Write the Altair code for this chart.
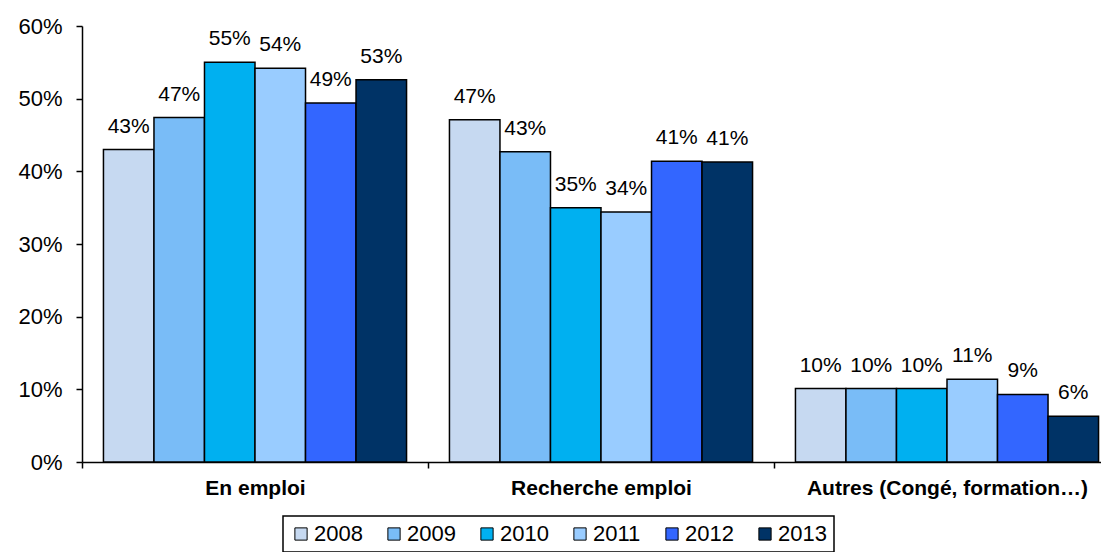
import altair as alt
import pandas as pd

categories = ["En emploi", "Recherche emploi", "Autres (Congé, formation…)"]
years = ["2008", "2009", "2010", "2011", "2012", "2013"]
en_emploi = [43.0, 47.4, 55.0, 54.2, 49.4, 52.6]
recherche_emploi = [47.1, 42.7, 35.0, 34.4, 41.4, 41.3]
autres = [10.1, 10.1, 10.1, 11.4, 9.3, 6.3]
colors = ["#C6D9F1", "#79BCF7", "#00B0F0", "#99CCFF", "#3366FF", "#003366"]
y_ticks = [0, 0.1, 0.2, 0.3, 0.4, 0.5, 0.6]

rows = []
for cat, vals in zip(categories, [en_emploi, recherche_emploi, autres]):
    for yr, v in zip(years, vals):
        rows.append({"categorie": cat, "annee": yr, "part": v / 100})
df = pd.DataFrame(rows)

FONT = "Liberation Sans"

x_enc = alt.X(
    "categorie:N",
    sort=categories,
    title=None,
    scale=alt.Scale(range=[0, 1038], paddingInner=0.124, paddingOuter=0.062),
    axis=alt.Axis(
        labelAngle=0,
        labelFontWeight="bold",
        labelFontSize=21,
        labelFont=FONT,
        labelColor="black",
        labelPadding=9,
        labelLimit=0,
        tickOffset=-173,
        labelOffset=173,
        tickSize=6,
        tickColor="black",
        domainColor="black",
        domainWidth=1.5,
        tickWidth=1.5,
    ),
)
xoff_enc = alt.XOffset("annee:N", sort=years, scale=alt.Scale(paddingInner=0, paddingOuter=0))
y_enc = alt.Y(
    "part:Q",
    title=None,
    scale=alt.Scale(domain=[0, 0.6], nice=False),
    axis=alt.Axis(
        values=y_ticks,
        format=".0%",
        grid=False,
        labelFontSize=22,
        labelFont=FONT,
        labelColor="black",
        labelPadding=14,
        tickSize=6,
        tickColor="black",
        tickWidth=1.5,
        domainColor="black",
        domainWidth=1.5,
    ),
)

bars = alt.Chart(df).mark_bar(stroke="black", strokeWidth=1.5).encode(
    x=x_enc,
    xOffset=xoff_enc,
    y=y_enc,
    color=alt.Color(
        "annee:N",
        sort=years,
        scale=alt.Scale(domain=years, range=colors),
        legend=alt.Legend(
            title=None,
            orient="none",
            direction="horizontal",
            columns=6,
            legendX=201,
            legendY=490,
            strokeColor="black",
            padding=7,
            symbolType="square",
            symbolSize=150,
            symbolStrokeColor="black",
            symbolStrokeWidth=1,
            labelFontSize=22,
            labelFont=FONT,
            labelColor="black",
            labelOffset=2,
            columnPadding=20,
        ),
    ),
)

labels = alt.Chart(df).mark_text(
    baseline="bottom", dy=-13, fontSize=21, font=FONT, color="black"
).encode(
    x=alt.X("categorie:N", sort=categories),
    xOffset=alt.XOffset("annee:N", sort=years),
    y=alt.Y("part:Q"),
    text=alt.Text("part:Q", format=".0%"),
)

chart = (
    alt.layer(bars, labels)
    .properties(
        width=1019,
        height=436,
        autosize=alt.AutoSizeParams(type="none"),
        padding={"left": 74, "top": 18, "right": 0, "bottom": 90},
    )
    .configure_view(stroke=None)
    .configure_legend(strokeWidth=1.5)
)

chart.save("out.html", embed_options={"renderer": "svg", "actions": False})
